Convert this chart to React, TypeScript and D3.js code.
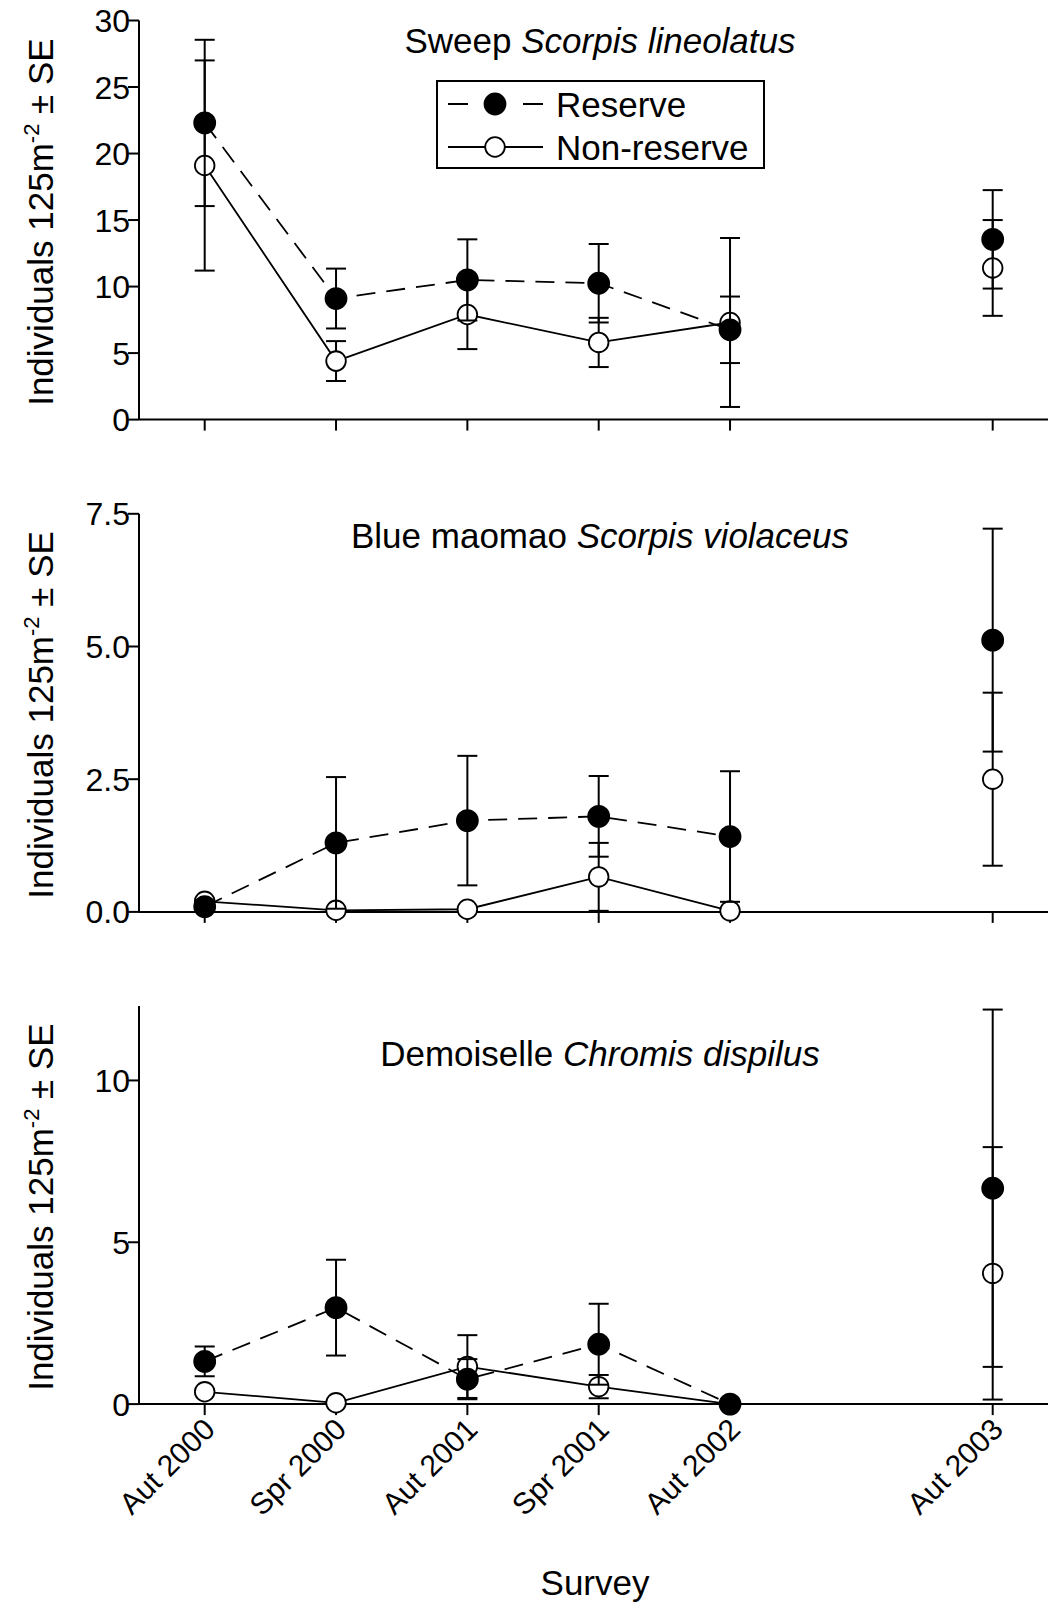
import React from "react";
import * as d3 from "d3";

// survey labels and their slot on the x axis (2002 -> 2003 gap of one slot)
const surveys = ["Aut 2000", "Spr 2000", "Aut 2001", "Spr 2001", "Aut 2002", "Aut 2003"];
const surveyIndex = [0, 1, 2, 3, 4, 6];

// Sweep Scorpis lineolatus
const sweepReserve = [22.3, 9.1, 10.5, 10.25, 6.75, 13.55];
const sweepReserveSE = [6.25, 2.25, 3.05, 2.95, 2.5, 3.7];
const sweepNonReserve = [19.1, 4.4, 7.9, 5.8, 7.3, 11.4];
const sweepNonReserveSE = [7.9, 1.5, 2.6, 1.85, 6.35, 3.6];

// Blue maomao Scorpis violaceus
const maomaoReserve = [0.1, 1.3, 1.72, 1.8, 1.42, 5.12];
const maomaoReserveSE = [0.05, 1.24, 1.22, 0.76, 1.23, 2.1];
const maomaoNonReserve = [0.2, 0.03, 0.05, 0.66, 0.02, 2.5];
const maomaoNonReserveSE = [0.05, 0.02, 0.03, 0.64, 0.02, 1.63];

// Demoiselle Chromis dispilus
const demoReserve = [1.32, 2.98, 0.77, 1.85, 0, 6.67];
const demoReserveSE = [0.46, 1.48, 0.62, 1.25, 0, 5.52];
const demoNonReserve = [0.38, 0.04, 1.16, 0.54, 0, 4.04];
const demoNonReserveSE = [0.08, 0.02, 0.97, 0.36, 0, 3.9];

const sweepTicks = [0, 5, 10, 15, 20, 25, 30];
const maomaoTicks = [0, 2.5, 5, 7.5];
const demoTicks = [0, 5, 10];

const FONT = "'Liberation Sans', Arial, Helvetica, sans-serif";
const W = 1050;
const H = 1605;
const axisLeft = 139;
const axisRight = 1048;

const x = d3.scaleLinear().domain([0, 6]).range([204.7, 992.7]);

const panels = [
  {
    common: "Sweep", latin: "Scorpis lineolatus",
    reserve: sweepReserve, reserveSE: sweepReserveSE,
    nonReserve: sweepNonReserve, nonReserveSE: sweepNonReserveSE,
    ticks: sweepTicks, fmt: d3.format("d"), yMax: 30,
    top: 20.5, bottom: 419.6, titleY: 53, legend: true,
  },
  {
    common: "Blue maomao", latin: "Scorpis violaceus",
    reserve: maomaoReserve, reserveSE: maomaoReserveSE,
    nonReserve: maomaoNonReserve, nonReserveSE: maomaoNonReserveSE,
    ticks: maomaoTicks, fmt: d3.format(".1f"), yMax: 7.5,
    top: 513.8, bottom: 911.9, titleY: 547.5, legend: false,
  },
  {
    common: "Demoiselle", latin: "Chromis dispilus",
    reserve: demoReserve, reserveSE: demoReserveSE,
    nonReserve: demoNonReserve, nonReserveSE: demoNonReserveSE,
    ticks: demoTicks, fmt: d3.format("d"), yMax: 12.3,
    top: 1006, bottom: 1404.1, titleY: 1066, legend: false,
  },
];

function Series({ values, se, y, filled }) {
  const line = d3.line<number>()
    .x((_, i) => x(surveyIndex[i]))
    .y(d => y(d));
  // only the first five surveys are joined
  const joined = values.slice(0, 5);
  return (
    <g>
      <path d={line(joined) || ""} fill="none" stroke="#000" strokeWidth={1.8}
        strokeDasharray={filled ? "19 11" : undefined} />
      {values.map((v, i) => {
        if (!se[i]) return null;
        const cx = x(surveyIndex[i]);
        const y1 = y(v + se[i]);
        const y0 = y(v - se[i]);
        return (
          <g key={"e" + i} stroke="#000" strokeWidth={2}>
            <line x1={cx} x2={cx} y1={y0} y2={y1} />
            <line x1={cx - 10} x2={cx + 10} y1={y1} y2={y1} />
            <line x1={cx - 10} x2={cx + 10} y1={y0} y2={y0} />
          </g>
        );
      })}
      {values.map((v, i) => (
        <circle key={"m" + i} cx={x(surveyIndex[i])} cy={y(v)} r={filled ? 10.5 : 9.8}
          fill={filled ? "#000" : "#fff"} stroke="#000" strokeWidth={1.8} />
      ))}
    </g>
  );
}

function Legend() {
  const rows = [
    { label: "Reserve", filled: true, cy: 104 },
    { label: "Non-reserve", filled: false, cy: 147 },
  ];
  return (
    <g>
      <rect x={437} y={81} width={327} height={87} fill="#fff" stroke="#000" strokeWidth={2} />
      {rows.map(r => (
        <g key={r.label}>
          <line x1={448} x2={543} y1={r.cy} y2={r.cy} stroke="#000" strokeWidth={1.8}
            strokeDasharray={r.filled ? "20 55" : undefined} />
          <circle cx={495} cy={r.cy} r={r.filled ? 10.5 : 9.8}
            fill={r.filled ? "#000" : "#fff"} stroke="#000" strokeWidth={1.8} />
          <text x={556} y={r.cy + 12.5} fontSize={35} fontFamily={FONT}>{r.label}</text>
        </g>
      ))}
    </g>
  );
}

function Panel({ p }) {
  const y = d3.scaleLinear().domain([0, p.yMax]).range([p.bottom, p.top]);
  const mid = (p.top + p.bottom) / 2;
  return (
    <g>
      {/* axes */}
      <line x1={axisLeft} x2={axisLeft} y1={p.top} y2={p.bottom} stroke="#000" strokeWidth={2} />
      <line x1={axisLeft} x2={axisRight} y1={p.bottom} y2={p.bottom} stroke="#000" strokeWidth={2} />
      {p.ticks.map(t => (
        <g key={t}>
          <line x1={axisLeft - 11} x2={axisLeft} y1={y(t)} y2={y(t)} stroke="#000" strokeWidth={2} />
          <text x={130} y={y(t)} dy="0.36em" textAnchor="end" fontSize={32} fontFamily={FONT}>
            {p.fmt(t)}
          </text>
        </g>
      ))}
      {surveyIndex.map(s => (
        <line key={s} x1={x(s)} x2={x(s)} y1={p.bottom} y2={p.bottom + 11} stroke="#000" strokeWidth={2} />
      ))}
      <text transform={`translate(53,${mid + 2}) rotate(-90)`} textAnchor="middle" fontSize={35} fontFamily={FONT}>
        Individuals 125m<tspan fontSize={22} dy={-14}>-2</tspan><tspan dy={14}> ± SE</tspan>
      </text>
      <text x={600} y={p.titleY} textAnchor="middle" fontSize={35} fontFamily={FONT}>
        {p.common} <tspan fontStyle="italic">{p.latin}</tspan>
      </text>
      <Series values={p.nonReserve} se={p.nonReserveSE} y={y} filled={false} />
      <Series values={p.reserve} se={p.reserveSE} y={y} filled={true} />
      {p.legend && <Legend />}
    </g>
  );
}

export default function App() {
  const base = panels[2].bottom;
  return (
    <svg width={W} height={H} style={{ position: "absolute", left: 0, top: 0, background: "#fff" }}>
      <rect width={W} height={H} fill="#fff" />
      {panels.map(p => <Panel key={p.common} p={p} />)}
      {surveys.map((s, i) => (
        <text key={s} transform={`translate(${x(surveyIndex[i]) + 12},${base + 27}) rotate(-45)`}
          textAnchor="end" fontSize={30} fontFamily={FONT}>{s}</text>
      ))}
      <text x={595} y={1595} textAnchor="middle" fontSize={35} fontFamily={FONT}>Survey</text>
    </svg>
  );
}
